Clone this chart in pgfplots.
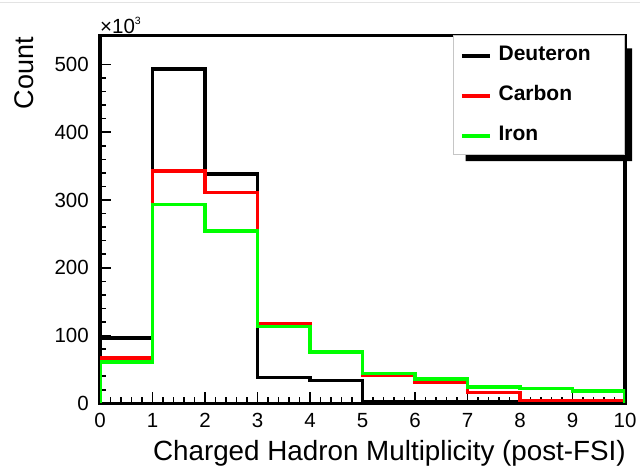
\documentclass[border=0pt]{standalone}
\usepackage{fontspec}
\setmainfont{Liberation Sans}
\usepackage{pgfplots}
\pgfplotsset{compat=1.18}

\begin{document}
\begin{tikzpicture}[x=1bp,y=1bp]
\path[use as bounding box] (0,0) rectangle (640,469);
\draw[gray!22, line width=1.2bp] (0,466.5) -- (640,466.5);
\begin{axis}[
  at={(100bp,65.7bp)}, anchor=south west,
  scale only axis, width=525bp, height=368bp,
  xmin=0, xmax=10, ymin=0, ymax=543,
  axis line style={line width=3.5bp, line cap=rect},
  xtick={0,1,...,10}, ytick={0,100,...,500},
  minor x tick num=4, minor y tick num=4,
  tick align=inside, xtick pos=bottom, ytick pos=left,
  major tick length=11bp, minor tick length=6bp,
  tick style={black, line width=1.6bp},
  /pgf/number format/assume math mode=true,
  ticklabel style={font=\fontsize{20.5bp}{24bp}\selectfont},
  xticklabel style={inner ysep=0pt, yshift=-10bp},
  yticklabel style={inner xsep=0pt, xshift=-11bp},
  legend style={at={(1,1)}, anchor=north east, draw=gray!45, line width=0.8bp,
    fill=white, inner xsep=7bp, inner ysep=4bp, row sep=9bp, column sep=0pt,
    font=\fontsize{21bp}{25bp}\selectfont\bfseries,
    nodes={text height=15bp, text depth=4bp, inner ysep=6bp, inner xsep=7bp},
    name=lgd},
  legend cell align=left,
  legend image code/.code={\draw[#1] (0bp,-1bp) -- (28bp,-1bp);},
]
% per-bin counts in thousands, drawn as step outlines
\addplot[black, line width=3.5bp, const plot] coordinates {
  (0,0) (0,96) (1,493) (2,338) (3,38) (4,34) (5,3) (6,3) (7,2) (8,2) (9,1) (10,1) (10,0)};
\addlegendentry{\makebox[112bp][l]{Deuteron}}
\addplot[red, line width=3.5bp, const plot] coordinates {
  (0,0) (0,67) (1,343) (2,311) (3,118) (4,76) (5,42) (6,31) (7,16) (8,4) (9,4) (10,4) (10,0)};
\addlegendentry{Carbon}
\addplot[green, line width=3.5bp, const plot] coordinates {
  (0,0) (0,61) (1,293) (2,254) (3,113) (4,76) (5,44) (6,36) (7,24) (8,22) (9,18) (10,18) (10,0)};
\addlegendentry{Iron}

\coordinate (topleft) at (rel axis cs:0,1);
\coordinate (botright) at (rel axis cs:1,0);
\end{axis}
\path (topleft) ++(0,2bp) node[anchor=base west, inner sep=0pt,
  font=\fontsize{20.5bp}{24bp}\selectfont] {×10\raisebox{8.5bp}{\fontsize{10.5bp}{12bp}\selectfont 3}};
\path (topleft) ++(-67bp,-1.5bp) node[rotate=90, anchor=base east, inner sep=0pt,
  font=\fontsize{27bp}{32bp}\selectfont] {Count};
\path (botright) ++(1bp,-57bp) node[anchor=base east, inner sep=0pt,
  font=\fontsize{27.8bp}{33bp}\selectfont] {Charged Hadron Multiplicity (post-FSI)};
% drop shadow of the legend box
\fill[black] ([yshift=-13bp]lgd.north east) -- ++(7bp,0) |- ([xshift=13bp,yshift=-6bp]lgd.south west)
  -- ([xshift=13bp]lgd.south west) -- (lgd.south east) -- cycle;
\end{tikzpicture}
\end{document}
